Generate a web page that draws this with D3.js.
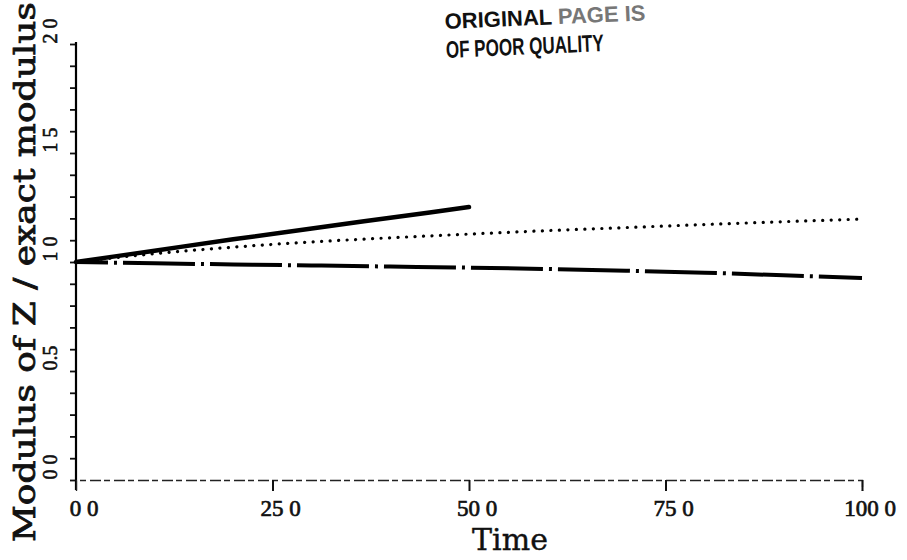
<!DOCTYPE html>
<html>
<head>
<meta charset="utf-8">
<script src="https://cdn.jsdelivr.net/npm/d3@7"></script>
<style>
  body { margin: 0; background: #fff; }
  svg { display: block; }
</style>
</head>
<body>
<svg></svg>
<script>
// values
const timeSolid = [0, 10, 20, 30, 40, 50];
const ratioSolid = [1.0, 1.052, 1.104, 1.154, 1.203, 1.252];

const timeDotted = [0, 10, 20, 30, 40, 50, 60, 70, 80, 90, 100];
const ratioDotted = [1.0, 1.038, 1.068, 1.092, 1.111, 1.128, 1.144, 1.158, 1.172, 1.185, 1.197];

const timeDashDot = [0, 10, 20, 30, 40, 50, 60, 70, 80, 90, 100];
const ratioDashDot = [1.0, 0.994, 0.989, 0.984, 0.979, 0.974, 0.968, 0.960, 0.951, 0.939, 0.927];

const xTicks = [0, 25, 50, 75, 100];
const xTickLabels = ["0 0", "25 0", "50 0", "75 0", "100 0"];
const yTicks = [0, 0.5, 1.0, 1.5, 2.0];
const yTickLabels = ["0 0", "0.5", "1 0", "1 5", "2 0"];

let width = 907,
    height = 560;

const svg = d3.select("svg")
    .attr("width", width)
    .attr("height", height);

const x = d3.scaleLinear().domain([0, 100]).range([76, 862]);
const y = d3.scaleLinear().domain([0, 2]).range([480, 44]);

// y axis, major + minor ticks pointing out
const yAxis = svg.append("g").attr("class", "yAxis")
    .attr("transform", `translate(${x(0)} 0)`)
    .call(d3.axisLeft(y).tickValues(y.ticks(20)).tickSize(6).tickFormat(""));
yAxis.select(".domain").remove();
yAxis.selectAll(".tick line").attr("stroke", "#111").attr("stroke-width", 1.8);

svg.append("line")
    .attr("x1", x(0)).attr("x2", x(0))
    .attr("y1", y(2) - 2).attr("y2", y(0) + 10)
    .attr("stroke", "#000").attr("stroke-width", 2.2);

// x axis, thin broken line like the scan
const xAxis = svg.append("g").attr("class", "xAxis")
    .attr("transform", `translate(0 ${y(0)})`)
    .call(d3.axisBottom(x).tickValues(xTicks.slice(1)).tickSize(11).tickFormat(""));
xAxis.select(".domain")
    .attr("stroke", "#222")
    .attr("stroke-width", 1.3)
    .attr("stroke-dasharray", "11,3,6,4");
xAxis.selectAll(".tick line").attr("stroke", "#111").attr("stroke-width", 2);

// tick labels
svg.append("g").attr("class", "xLabels")
    .selectAll("text")
    .data(xTicks)
    .enter()
    .append("text")
    .attr("x", d => x(d) + 8)
    .attr("y", 516)
    .attr("text-anchor", "middle")
    .attr("font-family", "Liberation Serif, serif")
    .attr("font-size", 23)
    .attr("fill", "#111")
    .attr("stroke", "#111")
    .attr("stroke-width", 0.7)
    .text((d, i) => xTickLabels[i]);

svg.append("g").attr("class", "yLabels")
    .selectAll("text")
    .data(yTicks)
    .enter()
    .append("text")
    .attr("transform", d => `translate(57 ${y(d) - 13}) rotate(-90)`)
    .attr("text-anchor", "middle")
    .attr("font-family", "Liberation Serif, serif")
    .attr("font-size", 20)
    .attr("fill", "#111")
    .attr("stroke", "#111")
    .attr("stroke-width", 0.6)
    .text((d, i) => yTickLabels[i]);

// axis titles
svg.append("text")
    .attr("x", 510)
    .attr("y", 550)
    .attr("text-anchor", "middle")
    .attr("font-family", "DejaVu Serif, serif")
    .attr("font-size", 30)
    .attr("fill", "#111")
    .attr("stroke", "#111")
    .attr("stroke-width", 0.4)
    .text("Time");

svg.append("text")
    .attr("transform", "translate(35 272) rotate(-90)")
    .attr("text-anchor", "middle")
    .attr("font-family", "DejaVu Serif, serif")
    .attr("font-size", 30)
    .attr("textLength", 540)
    .attr("lengthAdjust", "spacingAndGlyphs")
    .attr("fill", "#111")
    .attr("stroke", "#111")
    .attr("stroke-width", 0.8)
    .text("Modulus of Z / exact modulus");

// lines
const line = d3.line()
    .x(d => x(d[0]))
    .y(d => y(d[1]))
    .curve(d3.curveMonotoneX);

svg.append("path")
    .datum(d3.zip(timeDotted, ratioDotted))
    .attr("d", line)
    .attr("fill", "none")
    .attr("stroke", "#000")
    .attr("stroke-width", 3.2)
    .attr("stroke-linecap", "round")
    .attr("stroke-dasharray", "0.1,8.4");

svg.append("path")
    .datum(d3.zip(timeDashDot, ratioDashDot))
    .attr("d", line)
    .attr("fill", "none")
    .attr("stroke", "#000")
    .attr("stroke-width", 4)
    .attr("stroke-dasharray", "72,6,3,6")
    .attr("stroke-dashoffset", 40);

svg.append("path")
    .datum(d3.zip(timeSolid, ratioSolid))
    .attr("d", line)
    .attr("fill", "none")
    .attr("stroke", "#000")
    .attr("stroke-width", 4.5)
    .attr("stroke-linecap", "round");

// scanner stamp at the top
const stamp = svg.append("g")
    .attr("transform", "translate(445 29) rotate(-2.5)")
    .attr("font-family", "Liberation Sans, sans-serif")
    .attr("font-weight", "bold")
    .attr("fill", "#111");

const line1 = stamp.append("text").attr("x", 0).attr("y", 0).attr("font-size", 22);
line1.append("tspan").text("ORIGINAL ");
line1.append("tspan").attr("fill", "#777").text("PAGE IS");

stamp.append("text")
    .attr("x", 0)
    .attr("y", 29)
    .attr("font-size", 24)
    .attr("textLength", 158)
    .attr("lengthAdjust", "spacingAndGlyphs")
    .text("OF POOR QUALITY");
</script>
</body>
</html>
